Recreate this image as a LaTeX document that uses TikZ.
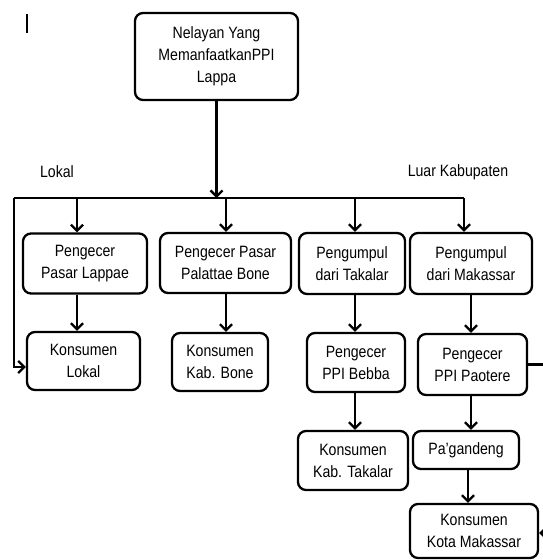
\documentclass[tikz,border=0pt]{standalone}
\usepackage{fontspec}
\setmainfont{Liberation Sans}[FakeStretch=0.86]
\usetikzlibrary{arrows.meta,calc}
\begin{document}
\begin{tikzpicture}[x=1pt,y=-1pt,
  box/.style={draw,line width=2.3pt,rounded corners=8pt,align=center,inner sep=0pt,
    font=\fontsize{16.4}{22}\selectfont},
  lbl/.style={font=\fontsize{16.4}{22}\selectfont,inner sep=0pt},
  link/.style={line width=2.3pt},
  arr/.style={link,-{Straight Barb[length=6pt,width=12pt]}}]
\useasboundingbox (0,0) rectangle (542,560);
\draw[line width=1.5pt] (27,14) -- (27,33);
\node[box,minimum width=163pt,minimum height=87pt] (top) at (216.5,56.5) {Nelayan Yang\\MemanfaatkanPPI\\Lappa};
\node[lbl] (lok) at (57,172) {Lokal};
\node[lbl] (luar) at (458,172) {Luar Kabupaten};
\node[box,minimum width=124pt,minimum height=60pt] (b1) at (85,263.5) {Pengecer\\Pasar Lappae};
\node[box,minimum width=131pt,minimum height=60pt] (b2) at (225.5,263) {Pengecer Pasar\\Palattae Bone};
\node[box,minimum width=106pt,minimum height=61pt] (b3) at (352,263.5) {Pengumpul\\dari Takalar};
\node[box,minimum width=122pt,minimum height=61pt] (b4) at (471,263.5) {Pengumpul\\dari Makassar};
\node[box,minimum width=113pt,minimum height=58pt] (k1) at (83.5,361) {Konsumen\\Lokal};
\node[box,minimum width=96pt,minimum height=58pt] (k2) at (220,362) {Konsumen\\Kab. Bone};
\node[box,minimum width=98pt,minimum height=59pt] (p1) at (356,362.5) {Pengecer\\PPI Bebba};
\node[box,minimum width=109pt,minimum height=61pt] (p2) at (472.5,364.5) {Pengecer\\PPI Paotere};
\node[box,minimum width=110pt,minimum height=59pt] (k3) at (353,460.5) {Konsumen\\Kab. Takalar};
\node[box,minimum width=106pt,minimum height=38pt] (pg) at (466,450) {Pa'gandeng};
\node[box,minimum width=128pt,minimum height=54pt] (k4) at (474,531) {Konsumen\\Kota Makassar};
% bus
\coordinate (L) at (14,198);
\coordinate (R) at (464,198);
\coordinate (c) at (216.5,198);
\coordinate (d1) at (77,198);
\coordinate (d2) at (226,198);
\coordinate (d3) at (355,198);
\draw[arr] (top.south) -- (c);
\draw[link] (L) -- (R);
\draw[arr] (L) |- ($(k1.west)+(0,6)$);
\draw[arr] (d1) -- (d1 |- b1.north);
\draw[arr] (d2) -- (d2 |- b2.north);
\draw[arr] (d3) -- (d3 |- b3.north);
\draw[arr] (R) -- (R |- b4.north);
% vertical links
\draw[arr] (b1.south -| d1) -- (d1 |- k1.north);
\draw[arr] (b2.south -| d2) -- (d2 |- k2.north);
\draw[arr] (b3.south -| d3) -- (d3 |- p1.north);
\draw[arr] (p1.south -| d3) -- (d3 |- k3.north);
\coordinate (d4) at (471,0);
\coordinate (d5) at (468,0);
\draw[arr] (b4.south -| d4) -- (d4 |- p2.north);
\draw[arr] (p2.south -| d4) -- (d4 |- pg.north);
\draw[arr] (pg.south -| d5) -- (d5 |- k4.north);
% right loop
\coordinate (E) at (560,0);
\draw[arr] (p2.east) -- (E |- p2.east) |- ($(k4.east)+(0,2)$);
\end{tikzpicture}
\end{document}
